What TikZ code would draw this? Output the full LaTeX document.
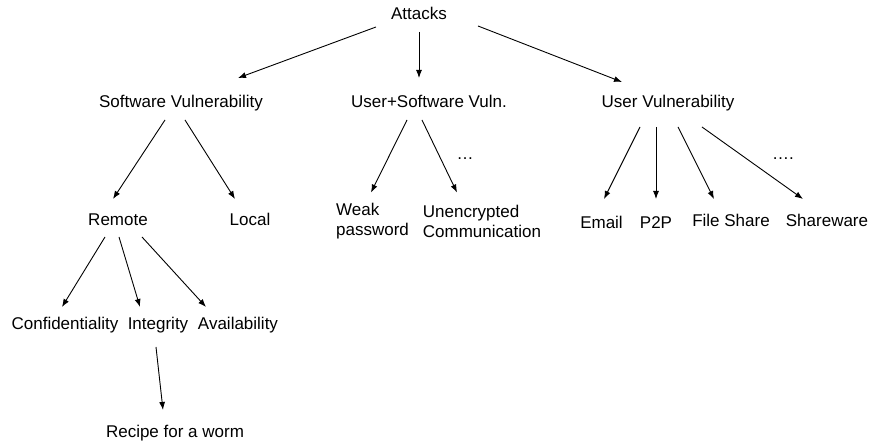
\documentclass[tikz,border=0pt]{standalone}
\usepackage{fontspec}
\setmainfont{Liberation Sans}
\usepackage{tikz}
\usetikzlibrary{arrows.meta}

\begin{document}
\begin{tikzpicture}[x=1pt, y=1pt, font=\fontsize{17}{20}\selectfont, >={Latex[length=8pt,width=6pt]},
    every node/.style={inner sep=0pt},
    lbl/.style={text height=12.5pt, text depth=3.5pt},
    multi/.style={align=left},
    arr/.style={->, line width=0.9pt}]
    \useasboundingbox ({0},{0}) rectangle ({871},{443});
    % top levels
    \node[lbl] (attacks) at ({419},{428}) {Attacks};
    \node[lbl] (softvul) at ({181},{340}) {Software Vulnerability};
    \node[lbl] (usrsoft) at ({429},{340}) {User+Software Vuln.};
    \node[lbl] (usrvul) at ({668},{340}) {User Vulnerability};

    \node[lbl] (remote) at ({118},{222}) {Remote};
    \node[lbl] (local) at ({250},{222}) {Local};
    \node[multi] (weak) at ({372.5},{221.5}) {Weak\\password};
    \node[multi] (unenc) at ({482},{221.5}) {Unencrypted\\Communication};
    \node[lbl] (email) at ({601.5},{219}) {Email};
    \node[lbl] (ptp) at ({656},{219}) {P2P};
    \node[lbl] (fileshare) at ({731},{221}) {File Share};
    \node[lbl] (shareware) at ({827},{221}) {Shareware};
    \node[lbl] (dotsa) at ({465},{288}) {…};
    \node[lbl] (dotsb) at ({783},{288}) {….};

    \node[lbl] (conf) at ({65},{118}) {Confidentiality};
    \node[lbl] (integ) at ({158},{118}) {Integrity};
    \node[lbl] (avail) at ({238},{118}) {Availability};
    \node[lbl] (recipe) at ({175},{10}) {Recipe for a worm};

    % arrows
    \draw[arr] ([shift={(-43,-12)}]attacks.center) -- ([shift={(57,25)}]softvul.center);
    \draw[arr] ([shift={(0,-17)}]attacks.center) -- ([shift={(-10,25)}]usrsoft.center);
    \draw[arr] ([shift={(59,-11)}]attacks.center) -- ([shift={(-46,21)}]usrvul.center);

    \draw[arr] ([shift={(-16,-17)}]softvul.center) -- ([shift={(-5,22)}]remote.center);
    \draw[arr] ([shift={(4,-17)}]softvul.center) -- ([shift={(-15,22)}]local.center);

    \draw[arr] ([shift={(-22,-17)}]usrsoft.center) -- ([shift={(-1.5,29)}]weak.center);
    \draw[arr] ([shift={(-7,-17)}]usrsoft.center) -- ([shift={(-25,29)}]unenc.center);

    \draw[arr] ([shift={(-28,-24)}]usrvul.center) -- ([shift={(2.5,25)}]email.center);
    \draw[arr] ([shift={(-12,-24)}]usrvul.center) -- ([shift={(0,25)}]ptp.center);
    \draw[arr] ([shift={(10,-24)}]usrvul.center) -- ([shift={(-17,23)}]fileshare.center);
    \draw[arr] ([shift={(34,-24)}]usrvul.center) -- ([shift={(-24,23)}]shareware.center);

    \draw[arr] ([shift={(-13,-16)}]remote.center) -- ([shift={(-3,18)}]conf.center);
    \draw[arr] ([shift={(1,-16)}]remote.center) -- ([shift={(-18,18)}]integ.center);
    \draw[arr] ([shift={(24,-16)}]remote.center) -- ([shift={(-32,18)}]avail.center);

    \draw[arr] ([shift={(-2,-22)}]integ.center) -- ([shift={(-12,23)}]recipe.center);
\end{tikzpicture}
\end{document}
